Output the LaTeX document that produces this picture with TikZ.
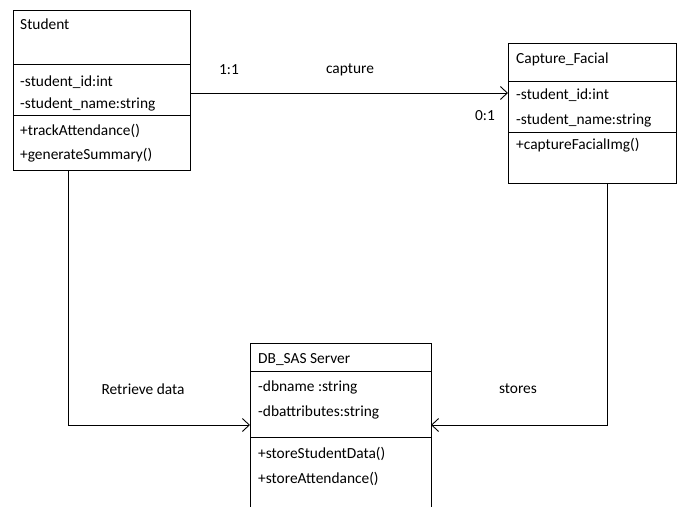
\documentclass[tikz,border=0pt]{standalone}
\usepackage{fontspec}
\setmainfont{Carlito}
\usetikzlibrary{arrows.meta}
\begin{document}
\begin{tikzpicture}[x=1pt,y=-1pt,
  box/.style={draw,line width=0.9pt,inner sep=0pt,anchor=north west},
  txt/.style={anchor=base west,inner sep=0pt,font=\fontsize{15.4}{17}\selectfont},
  lbl/.style={inner sep=0pt,font=\fontsize{15.4}{17}\selectfont},
  div/.style={line width=0.9pt},
  conn/.style={line width=0.9pt,-{Straight Barb[length=7pt,width=13pt,line width=0.9pt]}}]
\useasboundingbox (0,0) rectangle (677,506);
% Student
\node[box,minimum width=177pt,minimum height=160pt] (student) at (13,10) {};
\draw[div] (13,64) -- (190,64);
\draw[div] (13,115) -- (190,115);
\node[txt] (s1) at (20,29) {Student};
\node[txt] (s2) at (20,86) {-student\_id:int};
\node[txt] (s3) at (20,108) {-student\_name:string};
\node[txt] (s4) at (20,135) {+trackAttendance()};
\node[txt] (s5) at (20,159) {+generateSummary()};
% Capture_Facial
\node[box,minimum width=168pt,minimum height=140pt] (capture) at (508,43) {};
\draw[div] (508,81) -- (676,81);
\draw[div] (508,132) -- (676,132);
\node[txt] (c1) at (516,63) {Capture\_Facial};
\node[txt] (c2) at (516,99) {-student\_id:int};
\node[txt] (c3) at (516,124) {-student\_name:string};
\node[txt] (c4) at (516,149) {+captureFacialImg()};
% DB_SAS Server
\coordinate (dbtl) at (250,343);
\coordinate (dbtr) at (431,343);
\draw[line width=0.9pt] (250,510) -- (dbtl) -- (dbtr) -- (431,510);
\node[inner sep=0pt,minimum width=181pt,minimum height=1pt,anchor=north west] (db) at (250,343) {};
\draw[div] (250,371) -- (431,371);
\draw[div] (250,437) -- (431,437);
\node[txt] (d1) at (258,363) {DB\_SAS Server};
\node[txt] (d2) at (258,391) {-dbname :string};
\node[txt] (d3) at (258,416) {-dbattributes:string};
\node[txt] (d4) at (258,458) {+storeStudentData()};
\node[txt] (d5) at (258,483) {+storeAttendance()};
% connectors
\coordinate (a1) at (190,93);
\coordinate (a2) at (508,93);
\draw[conn] (a1) -- (a2);
\coordinate (b0) at (68,170);
\coordinate (b1) at (68,425);
\coordinate (b2) at (250,425);
\draw[conn] (b0) -- (b1) -- (b2);
\coordinate (e0) at (607,183);
\coordinate (e1) at (607,425);
\coordinate (e2) at (431,425);
\draw[conn] (e0) -- (e1) -- (e2);
% labels
\node[lbl] (l1) at (229,70) {1:1};
\node[lbl] (l2) at (350,70) {capture};
\node[lbl] (l3) at (485,116) {0:1};
\node[lbl] (l4) at (143,389) {Retrieve data};
\node[lbl] (l5) at (518,389) {stores};
\end{tikzpicture}
\end{document}
